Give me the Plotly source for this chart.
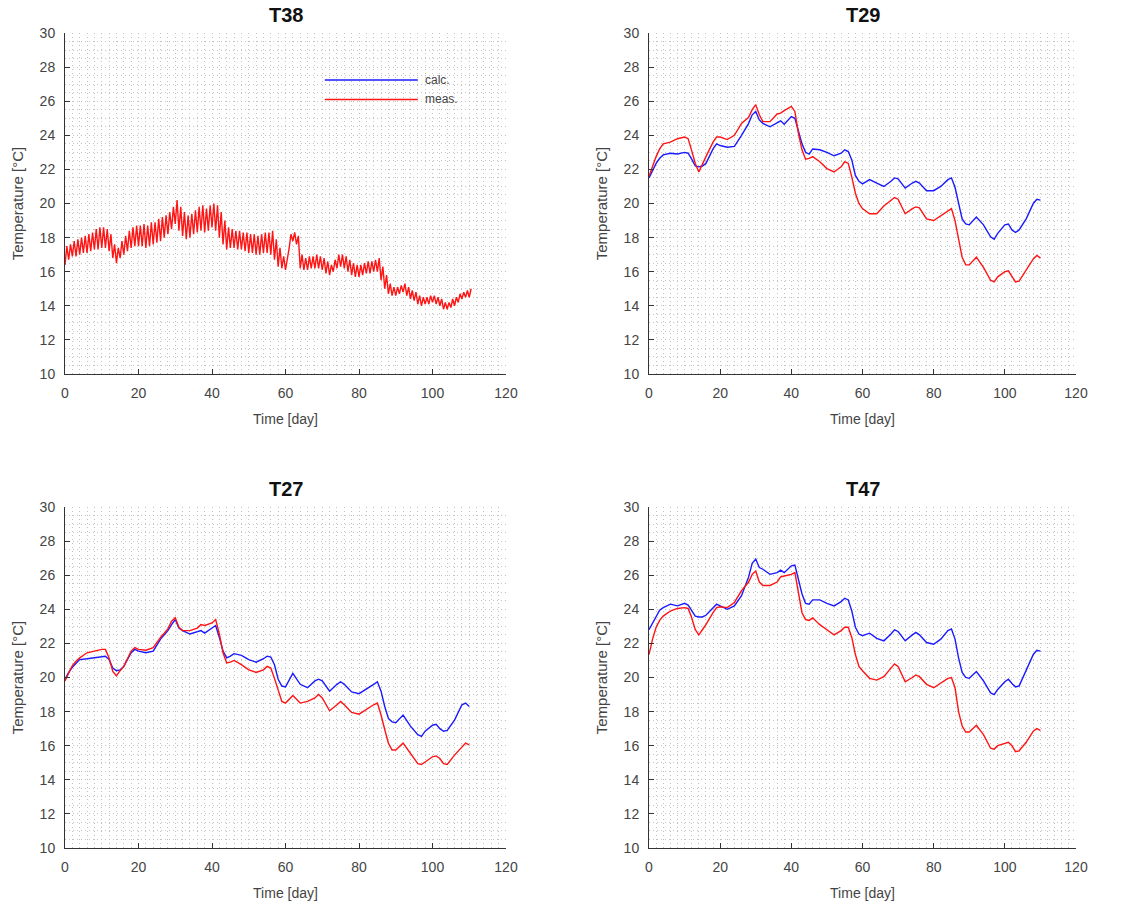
import plotly.graph_objects as go

# ---------------- data ----------------
days = [0, 1, 2, 3, 4,
        6, 8, 10, 11, 12, 13, 14, 15, 16,
        18, 19, 20, 22, 24, 26, 28, 29, 30, 31, 32,
        34, 36, 37, 38, 40, 41, 42, 43, 44, 45, 46,
        48, 50, 52, 54, 55, 56, 57, 58, 59, 60,
        62, 64, 66, 68, 69, 70, 72, 74, 75, 76,
        78, 80, 82, 84, 85, 86, 87, 88, 89, 90,
        92, 94, 96, 97, 98, 100, 101, 102, 103, 104,
        106, 108, 109, 110]

t29_calc = [21.5, 21.95, 22.35, 22.65, 22.85,
            22.95, 22.9, 23.0, 22.95, 22.6, 22.2, 22.15, 22.2, 22.35,
            23.2, 23.5, 23.4, 23.3, 23.35, 24.0, 24.7, 25.2, 25.4, 24.9, 24.7,
            24.5, 24.75, 24.85, 24.65, 25.1, 25.0, 24.2, 23.5, 23.0, 22.9, 23.2,
            23.15, 23.0, 22.8, 22.95, 23.15, 23.05, 22.55, 21.65, 21.3, 21.15,
            21.4, 21.2, 21.0, 21.3, 21.5, 21.45, 20.9, 21.2, 21.3, 21.2,
            20.75, 20.75, 21.0, 21.4, 21.5, 20.95, 20.0, 19.1, 18.8, 18.75,
            19.2, 18.75, 18.05, 17.9, 18.25, 18.75, 18.8, 18.45, 18.3, 18.45,
            19.1, 20.0, 20.25, 20.2]
t29_meas = [21.6, 22.2, 22.75, 23.2, 23.5,
            23.6, 23.8, 23.9, 23.8, 23.1, 22.35, 21.85, 22.35, 22.75,
            23.6, 23.9, 23.9, 23.75, 24.0, 24.7, 25.05, 25.5, 25.8, 25.2, 24.8,
            24.8, 25.25, 25.3, 25.45, 25.7, 25.4, 24.1, 23.15, 22.6, 22.65, 22.75,
            22.45, 22.05, 21.85, 22.15, 22.45, 22.35, 21.55, 20.6, 20.0, 19.7,
            19.4, 19.4, 19.85, 20.2, 20.35, 20.25, 19.4, 19.7, 19.8, 19.75,
            19.1, 19.0, 19.3, 19.55, 19.7, 19.0, 17.85, 16.85, 16.4, 16.4,
            16.85, 16.25, 15.5, 15.4, 15.7, 16.0, 16.05, 15.75, 15.4, 15.45,
            16.1, 16.75, 16.95, 16.8]

t27_calc = [19.9, 20.3, 20.6, 20.85, 21.05,
            21.1, 21.15, 21.2, 21.25, 21.05, 20.55, 20.4, 20.45, 20.65,
            21.45, 21.65, 21.55, 21.45, 21.55, 22.25, 22.75, 23.1, 23.4, 22.9, 22.75,
            22.55, 22.7, 22.75, 22.6, 22.9, 23.05, 22.35, 21.55, 21.15, 21.25, 21.4,
            21.3, 21.05, 20.9, 21.1, 21.25, 21.2, 20.75, 19.9, 19.5, 19.45,
            20.25, 19.6, 19.4, 19.8, 19.9, 19.8, 19.2, 19.6, 19.75, 19.6,
            19.15, 19.05, 19.3, 19.6, 19.75, 19.2, 18.3, 17.6, 17.4, 17.35,
            17.8, 17.15, 16.65, 16.55, 16.85, 17.2, 17.25, 17.0, 16.85, 16.9,
            17.5, 18.4, 18.5, 18.3]
t27_meas = [19.8, 20.3, 20.7, 20.95, 21.15,
            21.45, 21.55, 21.65, 21.65, 21.15, 20.35, 20.1, 20.4, 20.65,
            21.55, 21.75, 21.65, 21.6, 21.75, 22.35, 22.85, 23.3, 23.5, 22.95, 22.75,
            22.75, 22.9, 23.1, 23.05, 23.2, 23.4, 22.55, 21.45, 20.85, 20.9, 21.0,
            20.75, 20.45, 20.3, 20.45, 20.65, 20.55, 19.95, 19.2, 18.6, 18.5,
            18.95, 18.5, 18.6, 18.8, 19.0, 18.8, 18.05, 18.4, 18.6, 18.4,
            17.95, 17.85, 18.15, 18.4, 18.5, 17.8, 16.95, 16.15, 15.75, 15.75,
            16.15, 15.55, 14.95, 14.9, 15.05, 15.35, 15.4, 15.25, 14.95, 14.9,
            15.45, 15.95, 16.15, 16.05]

t47_calc = [22.8, 23.2, 23.55, 23.95, 24.1,
            24.3, 24.2, 24.35, 24.25, 23.9, 23.6, 23.55, 23.55, 23.65,
            24.1, 24.3, 24.2, 24.0, 24.2, 24.8, 25.9, 26.7, 26.95, 26.45, 26.35,
            26.05, 26.15, 26.3, 26.15, 26.55, 26.6, 25.75, 24.9, 24.35, 24.3, 24.55,
            24.55, 24.35, 24.2, 24.45, 24.65, 24.55, 23.9, 22.95, 22.55, 22.45,
            22.6, 22.3, 22.15, 22.55, 22.8, 22.7, 22.15, 22.5, 22.65, 22.5,
            22.05, 21.95, 22.25, 22.75, 22.85, 22.25, 21.15, 20.3, 20.0, 19.95,
            20.35, 19.8, 19.1, 19.0, 19.3, 19.75, 19.9, 19.65, 19.45, 19.5,
            20.4, 21.35, 21.6, 21.55]
t47_meas = [21.35, 22.25, 22.95, 23.35, 23.6,
            23.9, 24.05, 24.1, 24.05, 23.5, 22.8, 22.5, 22.8, 23.1,
            23.8, 24.1, 24.15, 24.1, 24.4, 25.1, 25.6, 26.05, 26.25, 25.6, 25.4,
            25.4, 25.6, 25.9, 25.95, 26.05, 26.15, 24.9, 23.8, 23.4, 23.35, 23.5,
            23.1, 22.8, 22.5, 22.75, 22.95, 22.95, 22.35, 21.35, 20.65, 20.4,
            19.95, 19.85, 20.05, 20.55, 20.8, 20.65, 19.75, 20.0, 20.15, 20.05,
            19.6, 19.4, 19.7, 19.95, 20.0, 19.4, 18.0, 17.15, 16.8, 16.8,
            17.2, 16.65, 15.85, 15.8, 16.0, 16.15, 16.2, 16.0, 15.65, 15.7,
            16.2, 16.85, 17.0, 16.9]

# T38 measured: daily minimum / maximum (strong day-night cycle)
t38_day = list(range(111))
t38_hi = [17.5, 17.6, 17.8, 17.9, 18.0, 18.1, 18.2, 18.3, 18.5, 18.6,
          18.6, 18.5, 18.2, 17.6, 17.4, 17.8, 18.1, 18.4, 18.6, 18.7,
          18.7, 18.8, 18.7, 18.9, 18.9, 19.1, 19.2, 19.3, 19.5, 19.8,
          20.2, 19.8, 19.5, 19.3, 19.4, 19.6, 19.8, 19.9, 19.7, 19.9,
          20.0, 19.9, 19.5, 19.0, 18.6, 18.5, 18.4, 18.4, 18.3, 18.3,
          18.2, 18.2, 18.1, 18.2, 18.3, 18.3, 18.4, 17.9, 17.4, 16.9,
          16.7, 18.2, 18.3, 18.1, 17.0, 16.8, 16.9, 16.9, 17.0, 16.9,
          16.8, 16.6, 16.4, 16.7, 17.0, 17.0, 16.9, 16.7, 16.5, 16.4,
          16.4, 16.5, 16.6, 16.6, 16.7, 16.8, 16.3, 15.8, 15.3, 15.1,
          15.1, 15.2, 15.3, 15.1, 14.9, 14.8, 14.6, 14.5, 14.5, 14.6,
          14.6, 14.5, 14.4, 14.2, 14.2, 14.4, 14.5, 14.7, 14.8, 14.9,
          15.0]
t38_lo = [16.4, 16.7, 16.9, 16.9, 17.0, 17.1, 17.1, 17.2, 17.3, 17.3,
          17.4, 17.4, 17.2, 16.8, 16.5, 16.8, 17.0, 17.2, 17.4, 17.5,
          17.5, 17.5, 17.4, 17.5, 17.6, 17.7, 17.8, 18.0, 18.2, 18.5,
          18.8, 18.4, 18.1, 17.9, 18.0, 18.2, 18.3, 18.4, 18.3, 18.4,
          18.6, 18.4, 18.0, 17.6, 17.3, 17.4, 17.4, 17.3, 17.3, 17.2,
          17.1, 17.1, 17.0, 17.0, 17.1, 17.1, 17.0, 16.7, 16.3, 16.2,
          16.1, 17.4, 17.8, 17.6, 16.2, 16.1, 16.1, 16.2, 16.2, 16.2,
          16.1, 15.9, 15.8, 16.0, 16.2, 16.3, 16.2, 16.0, 15.8, 15.7,
          15.7, 15.8, 15.9, 15.9, 16.0, 16.0, 15.5, 15.0, 14.7, 14.6,
          14.6, 14.7, 14.8, 14.6, 14.4, 14.3, 14.1, 14.0, 14.1, 14.1,
          14.2, 14.1, 14.0, 13.8, 13.8, 13.9, 14.0, 14.2, 14.4, 14.5,
          14.5]

titles = ["T38", "T29", "T27", "T47"]
series_names = ["calc.", "meas."]
x_ticks = [0, 20, 40, 60, 80, 100, 120]
y_ticks = [10, 12, 14, 16, 18, 20, 22, 24, 26, 28, 30]

# ---------------- style ----------------
BLUE = "#1a1aff"
RED = "#ff1414"
FONT = "Liberation Sans, Arial, sans-serif"
W, H = 1126, 905

# plot-area pixel boxes (left, right, top, bottom)
boxes = [(65, 506, 33, 374), (649, 1076, 33, 374),
         (65, 506, 507, 848), (649, 1076, 507, 848)]

fig = go.Figure()

# T38 measured (day min/max interleaved through each day)
t38_x, t38_y = [], []
for d, lo, hi in zip(t38_day, t38_lo, t38_hi):
    t38_x += [d, d + 0.5]
    t38_y += [lo, hi]
fig.add_trace(go.Scatter(x=t38_x, y=t38_y, mode="lines", name="meas.",
                         line=dict(color=RED, width=1.4),
                         xaxis="x", yaxis="y", showlegend=False))

pairs = [(t29_calc, t29_meas, "x2", "y2"),
         (t27_calc, t27_meas, "x3", "y3"),
         (t47_calc, t47_meas, "x4", "y4")]
for calc, meas, xa, ya in pairs:
    fig.add_trace(go.Scatter(x=days, y=calc, mode="lines", name="calc.",
                             line=dict(color=BLUE, width=1.4),
                             xaxis=xa, yaxis=ya, showlegend=False))
    fig.add_trace(go.Scatter(x=days, y=meas, mode="lines", name="meas.",
                             line=dict(color=RED, width=1.4),
                             xaxis=xa, yaxis=ya, showlegend=False))

GRID = "#c2c2c2"
DASH = "1px,3px"
axis_common = dict(
    showline=True, linecolor="#333333", linewidth=1, mirror=False,
    ticks="inside", ticklen=5, tickcolor="#333333", tickwidth=1,
    tickfont=dict(family=FONT, size=14, color="#444444"),
    showgrid=True, gridcolor=GRID, griddash=DASH, gridwidth=1,
    zeroline=False, automargin=False,
)

layout = dict(width=W, height=H, margin=dict(l=0, r=0, t=0, b=0),
              paper_bgcolor="white", plot_bgcolor="white",
              font=dict(family=FONT, color="#444444"), showlegend=False)

annotations = []
for i, (l, r, t, b) in enumerate(boxes):
    n = "" if i == 0 else str(i + 1)
    xd = [l / W, r / W]
    yd = [1 - b / H, 1 - t / H]
    layout["xaxis" + n] = dict(
        axis_common, domain=xd, anchor="y" + n, range=[0, 120],
        tickvals=x_ticks, ticklabelstandoff=6,
        minor=dict(dtick=2, tick0=0, showgrid=True, gridcolor=GRID,
                   griddash=DASH, gridwidth=1),
        title=dict(text="Time [day]", standoff=14,
                   font=dict(family=FONT, size=14, color="#444444")))
    layout["yaxis" + n] = dict(
        axis_common, domain=yd, anchor="x" + n, range=[10, 30],
        tickvals=y_ticks, ticklabelstandoff=6,
        minor=dict(dtick=0.5, tick0=10, showgrid=True, gridcolor=GRID,
                   griddash=DASH, gridwidth=1),
        title=dict(text="Temperature [°C]", standoff=12,
                   font=dict(family=FONT, size=15, color="#444444")))
    annotations.append(dict(
        text="<b>%s</b>" % titles[i], xref="paper", yref="paper",
        x=(l + r) / 2 / W, y=1 - (t - 18) / H, xanchor="center",
        yanchor="middle", showarrow=False,
        font=dict(family=FONT, size=20, color="#111111")))

# legend in the T38 panel
legend_rows = [(series_names[0], BLUE, 27.25), (series_names[1], RED, 26.1)]
shapes = []
for name, col, yv in legend_rows:
    shapes.append(dict(type="line", xref="x", yref="y", x0=70.7, x1=96.0,
                       y0=yv, y1=yv, line=dict(color=col, width=1.5)))
    annotations.append(dict(text=name, xref="x", yref="y", x=97.3, y=yv,
                            xanchor="left", yanchor="middle", showarrow=False,
                            font=dict(family=FONT, size=12, color="#444444")))

layout["annotations"] = annotations
layout["shapes"] = shapes
fig.update_layout(**layout)

fig.write_html("out.html")
